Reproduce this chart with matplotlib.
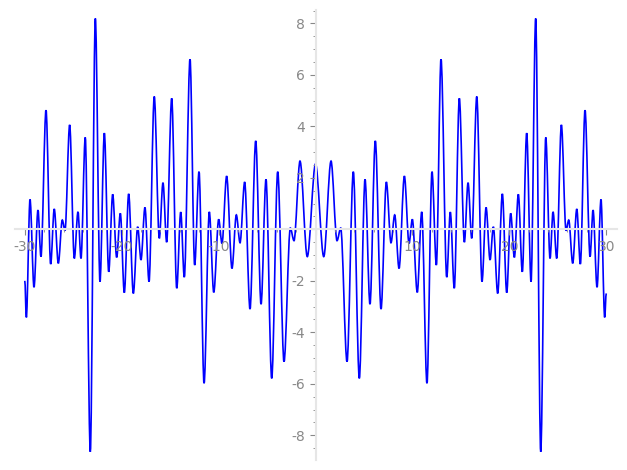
import matplotlib
matplotlib.use('Agg')
import matplotlib.pyplot as plt
from matplotlib.path import Path
from matplotlib.patches import PathPatch
from matplotlib.ticker import MultipleLocator, FuncFormatter

# local extrema of the curve, right half (curve is mirror symmetric)
x_ext = [0.0, 0.85, 1.6, 2.22, 2.6, 3.25, 3.9, 4.52, 5.11, 5.62, 6.17, 6.76, 7.31, 7.79,
         8.17, 8.62, 9.17, 9.65, 9.99, 10.5, 10.96, 11.5, 12.02, 12.47, 12.95, 13.54,
         13.91, 14.32, 14.84, 15.36, 15.74, 16.12, 16.64, 17.18, 17.6, 18.01, 18.35,
         18.8, 19.28, 19.73, 20.14, 20.52, 20.93, 21.34, 21.79, 22.24, 22.72, 23.24,
         23.76, 24.2, 24.51, 24.89, 25.37, 25.85, 26.13, 26.54, 26.96, 27.33, 27.81,
         28.33, 28.64, 29.05, 29.46, 29.84]
y_ext = [2.54, -1.06, 2.65, -0.44, 0.05, -5.14, 2.24, -5.79, 1.94, -2.91, 3.44, -3.1, 1.84,
         -0.52, 0.56, -1.52, 2.07, -0.55, 0.39, -2.45, 0.68, -5.98, 2.24, -1.39, 6.61,
         -1.86, 0.67, -2.29, 5.09, -0.5, 1.81, -0.35, 5.16, -2.03, 0.85, -1.19, 0.1,
         -2.49, 1.38, -2.46, 0.62, -1.09, 1.36, -1.65, 3.74, -2.03, 8.19, -8.64, 3.57,
         -1.13, 0.68, -1.13, 4.06, -0.05, 0.36, -1.32, 0.79, -1.35, 4.63, -1.06, 0.75,
         -2.25, 1.16, -3.42]
x_ends = [-30, 30]
y_ends = [-2.0, -2.49]

xs = [x_ends[0]] + [-v for v in x_ext[:0:-1]] + x_ext + [x_ends[1]]
ys = [y_ends[0]] + y_ext[:0:-1] + y_ext + [y_ends[1]]

fig = plt.figure(figsize=(6.27, 4.70), dpi=100)
ax = fig.add_axes([15 / 627, 10 / 470, 602 / 627, 450 / 470])

verts = [(xs[0], ys[0])]
codes = [Path.MOVETO]
for i in range(1, len(xs)):
    dx = xs[i] - xs[i - 1]
    verts += [(xs[i - 1] + dx / 3, ys[i - 1]), (xs[i] - dx / 3, ys[i]), (xs[i], ys[i])]
    codes += [Path.CURVE4] * 3
ax.add_patch(PathPatch(Path(verts, codes), fill=False, edgecolor='#0000ff', lw=1.2))

ax.set_xlim(-31.01, 31.11)
ax.set_ylim(-8.96, 8.52)

for s in ['top', 'right']:
    ax.spines[s].set_visible(False)
for s in ['left', 'bottom']:
    ax.spines[s].set_position(('data', 0))
    ax.spines[s].set_color('#e6e6e6')
    ax.spines[s].set_linewidth(1.5)

ax.xaxis.set_major_locator(MultipleLocator(10))
ax.xaxis.set_minor_locator(MultipleLocator(2))
ax.yaxis.set_major_locator(MultipleLocator(2))
ax.yaxis.set_minor_locator(MultipleLocator(0.5))
fmt = FuncFormatter(lambda v, p: '' if abs(v) < 1e-9 else '%g' % v)
ax.xaxis.set_major_formatter(fmt)
ax.yaxis.set_major_formatter(fmt)
ax.tick_params(which='both', colors='#888888', labelsize=10)
ax.tick_params(which='major', length=4)
ax.tick_params(which='minor', length=2)
ax.set_facecolor('none')

fig.savefig('out.png', dpi=100)
